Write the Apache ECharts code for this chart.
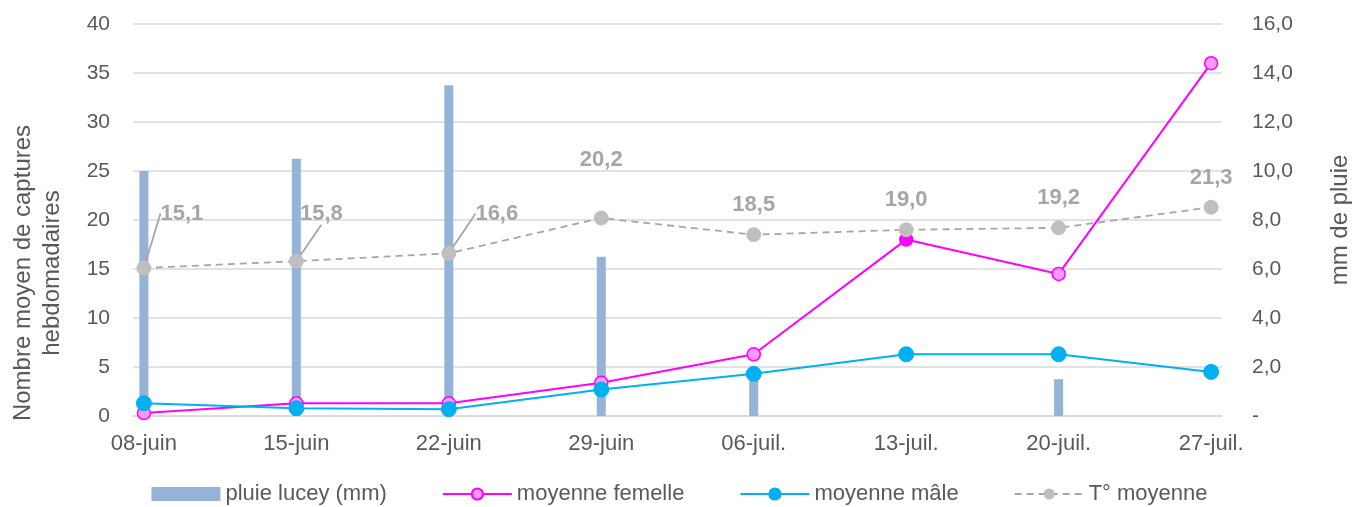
<!DOCTYPE html>
<html>
<head>
<meta charset="utf-8">
<script src="https://cdn.jsdelivr.net/npm/echarts@6/dist/echarts.min.js"></script>
<style>
html, body { margin: 0; padding: 0; background: #fff; }
#chart { width: 1359px; height: 507px; }
</style>
</head>
<body>
<div id="chart"></div>
<script>
// relevés hebdomadaires
var weekDates = ['08-juin', '15-juin', '22-juin', '29-juin', '06-juil.', '13-juil.', '20-juil.', '27-juil.'];
var pluie = [10.0, 10.5, 13.5, 6.5, 1.8, 0, 1.5, 0];
var femelle = [0.3, 1.3, 1.3, 3.4, 6.3, 18.0, 14.5, 36.0];
var male = [1.3, 0.8, 0.7, 2.7, 4.3, 6.3, 6.3, 4.5];
var temperature = [15.1, 15.8, 16.6, 20.2, 18.5, 19.0, 19.2, 21.3];

// déplacement des étiquettes de température (dx, dy), comme dans Excel
var labelMoves = [[38, -25], [25, -18], [48, -10], [0, -29], [0, 0], [0, 0], [0, 0], [0, 0]];

// axe journalier 08-juin .. 27-juil.
var days = [];
for (var d = 0; d < 50; d++) {
    var dt = new Date(2020, 5, 8 + d);
    var dd = ('0' + dt.getDate()).slice(-2);
    days.push(dd + '-' + (dt.getMonth() === 5 ? 'juin' : 'juil.'));
}

function toDaily(values) {
    var out = days.map(function () { return null; });
    weekDates.forEach(function (w, i) { out[days.indexOf(w)] = values[i]; });
    return out;
}

function frNum(v) { return v.toFixed(1).replace('.', ','); }

var femelleData = toDaily(femelle);
// point du 13-juil. rempli en magenta
var idx13 = days.indexOf('13-juil.');
femelleData[idx13] = { value: femelleData[idx13], itemStyle: { color: '#FF00FF' } };

// lignes de rappel seulement sur les trois premières étiquettes
var tempData = toDaily(temperature);
for (var k = 0; k < 3; k++) {
    var ix = days.indexOf(weekDates[k]);
    tempData[ix] = { value: tempData[ix], labelLine: { show: true } };
}

var textColor = '#595959';
var font = 'Liberation Sans';

var myChart = echarts.init(document.getElementById('chart'));

var option = {
    animation: false,
    textStyle: { fontFamily: font },
    grid: { left: 133, right: 137, top: 24, bottom: 91, containLabel: false, outerBoundsMode: 'none' },
    legend: {
        top: 478,
        itemGap: 55,
        itemWidth: 69,
        itemHeight: 14,
        textStyle: { color: textColor, fontSize: 22, fontFamily: font },
        data: [
            { name: 'pluie lucey (mm)', icon: 'rect' },
            'moyenne femelle', 'moyenne mâle', 'T° moyenne'
        ]
    },
    xAxis: {
        type: 'category',
        data: days,
        boundaryGap: true,
        axisLine: { lineStyle: { color: '#D9D9D9', width: 1.5 } },
        axisTick: {
            length: 5,
            interval: function (i) { return i % 7 === 0; },
            lineStyle: { color: '#D9D9D9' }
        },
        axisLabel: {
            interval: function (i) { return i % 7 === 0; },
            color: textColor,
            fontSize: 22,
            margin: 17
        }
    },
    yAxis: [{
        type: 'value',
        min: 0,
        max: 40,
        interval: 5,
        name: 'Nombre moyen de captures\nhebdomadaires',
        nameLocation: 'middle',
        nameGap: 66,
        nameTextStyle: { color: textColor, fontSize: 24, lineHeight: 29, padding: [0, 106, 0, 0] },
        axisLine: { show: false },
        axisTick: { show: false },
        axisLabel: { color: textColor, fontSize: 21, margin: 23 },
        splitLine: { lineStyle: { color: '#D9D9D9', width: 1.5 } }
    }, {
        type: 'value',
        min: 0,
        max: 16,
        interval: 2,
        name: 'mm de pluie',
        nameLocation: 'middle',
        nameGap: 106,
        nameTextStyle: { color: textColor, fontSize: 24 },
        axisLine: { show: false },
        axisTick: { show: false },
        axisLabel: {
            color: textColor,
            fontSize: 21,
            margin: 30,
            formatter: function (v) { return v === 0 ? '-' : frNum(v); }
        },
        splitLine: { show: false }
    }],
    series: [{
        name: 'pluie lucey (mm)',
        type: 'bar',
        yAxisIndex: 1,
        barWidth: 9,
        itemStyle: { color: '#95B3D7' },
        data: toDaily(pluie)
    }, {
        name: 'moyenne femelle',
        type: 'line',
        connectNulls: true,
        symbol: 'circle',
        symbolSize: 13,
        lineStyle: { color: '#FF00FF', width: 2 },
        itemStyle: { color: '#FF99FF', borderColor: '#FF00FF', borderWidth: 1.5 },
        data: femelleData
    }, {
        name: 'moyenne mâle',
        type: 'line',
        connectNulls: true,
        symbol: 'circle',
        symbolSize: 15,
        lineStyle: { color: '#00B0F0', width: 2 },
        itemStyle: { color: '#00B0F0', borderColor: '#00B0F0', borderWidth: 1 },
        data: toDaily(male)
    }, {
        name: 'T° moyenne',
        type: 'line',
        connectNulls: true,
        symbol: 'circle',
        symbolSize: 14,
        lineStyle: { color: '#A6A6A6', width: 1.8, type: [7, 5] },
        itemStyle: { color: '#BFBFBF', borderColor: '#BFBFBF' },
        label: {
            show: true,
            position: 'top',
            distance: 11,
            color: '#A6A6A6',
            fontWeight: 'bold',
            fontSize: 22,
            formatter: function (p) { return frNum(p.value); }
        },
        labelLine: { show: false, lineStyle: { color: '#A6A6A6', width: 1.8 } },
        labelLayout: function (p) {
            var m = labelMoves[p.dataIndex / 7];
            return { dx: m[0], dy: m[1], moveOverlap: false };
        },
        data: tempData
    }]
};

myChart.setOption(option, true);
</script>
</body>
</html>
